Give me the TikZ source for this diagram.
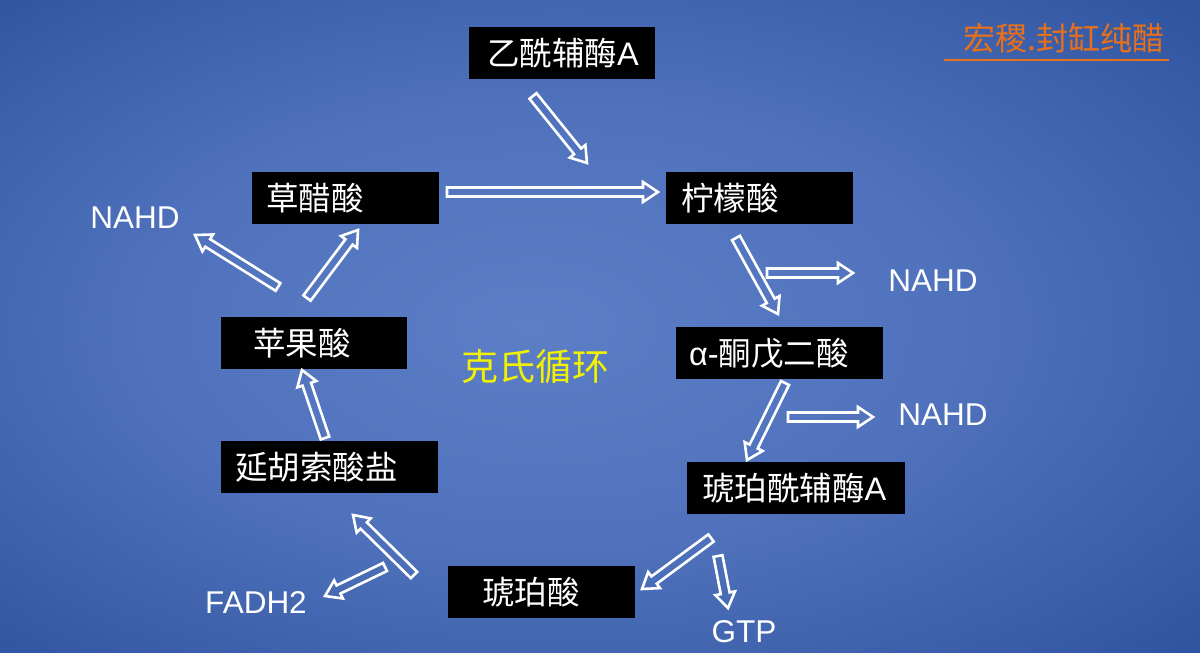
\documentclass[tikz,border=0pt]{standalone}
\usepackage{fontspec}
\usepackage{tikz}
\usetikzlibrary{calc}
\setmainfont{Liberation Sans}
\newfontfamily\cjk{Noto Sans CJK SC}
\definecolor{bgc0}{HTML}{5C7EC7}
\definecolor{bgc1}{HTML}{5072BC}
\definecolor{bgc2}{HTML}{3156A1}
\definecolor{bgc3}{HTML}{1A3673}
\definecolor{brandorange}{HTML}{E8701A}
\definecolor{cycleyellow}{HTML}{F2F200}
\pgfdeclareradialshading{slidebg}{\pgfpoint{-3bp}{0bp}}{color(0bp)=(bgc0); color(17bp)=(bgc1); color(35bp)=(bgc2); color(50bp)=(bgc3)}

\tikzset{
  molbox/.style 2 args={fill=black, text=white, anchor=north west, minimum height=52pt,
    text width=#1, inner xsep=#2, inner ysep=0pt, align=left,
    font=\fontsize{32.5}{35}\selectfont},
  sidelabel/.style={text=white, font=\fontsize{31.5}{35}\selectfont, inner sep=0pt},
  hollow/.style={draw=white, line width=2.6pt, line join=miter},
}

% hollow block arrow from #1 to #2
\newcommand\hollowarrow[2]{%
  \coordinate (hb) at ($(#2)!15pt!(#1)$);
  \draw[hollow] ($(#1)!4.5pt!90:(#2)$) -- ($(hb)!4.5pt!90:(#2)$) -- ($(hb)!10pt!90:(#2)$)
    -- (#2) -- ($(hb)!10pt!-90:(#2)$) -- ($(hb)!4.5pt!-90:(#2)$) -- ($(#1)!4.5pt!-90:(#2)$) -- cycle;}

\begin{document}
\begin{tikzpicture}[x=1pt,y=-1pt]
% background
\shade[shading=slidebg] (0,0) rectangle (1200,653);
\useasboundingbox (0,0) rectangle (1200,653);

% brand
\node[text=brandorange, font=\cjk\fontsize{32}{35}\selectfont, inner sep=0pt] (brand) at (1064,38) {宏稷.封缸纯醋};
\draw[brandorange, line width=1.6pt] (944,60) -- (1169,60);

% compounds
\node[molbox={150pt}{18pt}] (acetyl) at (469,27) {{\cjk 乙酰辅酶}A};
\node[molbox={159pt}{14pt}] (oxalo) at (252,172) {\cjk 草醋酸};
\node[molbox={157pt}{15pt}] (citric) at (666,172) {\cjk 柠檬酸};
\node[molbox={181pt}{13pt}] (keto) at (676,327) {α-{\cjk 酮戊二酸}};
\node[molbox={188pt}{15pt}] (succoa) at (687,462) {{\cjk 琥珀酰辅酶}A};
\node[molbox={122pt}{32pt}] (malic) at (221,317) {\cjk 苹果酸};
\node[molbox={189pt}{14pt}] (fumar) at (221,441) {\cjk 延胡索酸盐};
\node[molbox={119pt}{34pt}] (succ) at (448,566) {\cjk 琥珀酸};

% products
\node[sidelabel] (nadhA) at (135,218) {NAHD};
\node[sidelabel] (nadhB) at (933,281) {NAHD};
\node[sidelabel] (nadhC) at (943,415) {NAHD};
\node[sidelabel] (fadh) at (256,602) {FADH2};
\node[sidelabel] (gtp) at (744,632) {GTP};
\node[text=cycleyellow, font=\cjk\fontsize{37}{40}\selectfont, inner sep=0pt] (cycle) at (535,367) {克氏循环};

% arrow ends
\coordinate (a1) at (533,96);  \coordinate (b1) at (587,163);
\coordinate (a2) at (447,192); \coordinate (b2) at (658,192);
\coordinate (a3) at (736,238); \coordinate (b3) at (778,314);
\coordinate (a4) at (767,273); \coordinate (b4) at (853,273);
\coordinate (a5) at (785,383); \coordinate (b5) at (747,460);
\coordinate (a6) at (788,417); \coordinate (b6) at (873,417);
\coordinate (a7) at (711,538); \coordinate (b7) at (642,589);
\coordinate (a8) at (718,556); \coordinate (b8) at (728,608);
\coordinate (a9) at (414,575); \coordinate (b9) at (353,515);
\coordinate (a10) at (385,567); \coordinate (b10) at (325,596);
\coordinate (a11) at (325,438); \coordinate (b11) at (302,370);
\coordinate (a12) at (307,298); \coordinate (b12) at (358,230);
\coordinate (a13) at (278,287); \coordinate (b13) at (195,235);

\foreach \i in {1,...,13} {\hollowarrow{a\i}{b\i}}
\end{tikzpicture}
\end{document}
